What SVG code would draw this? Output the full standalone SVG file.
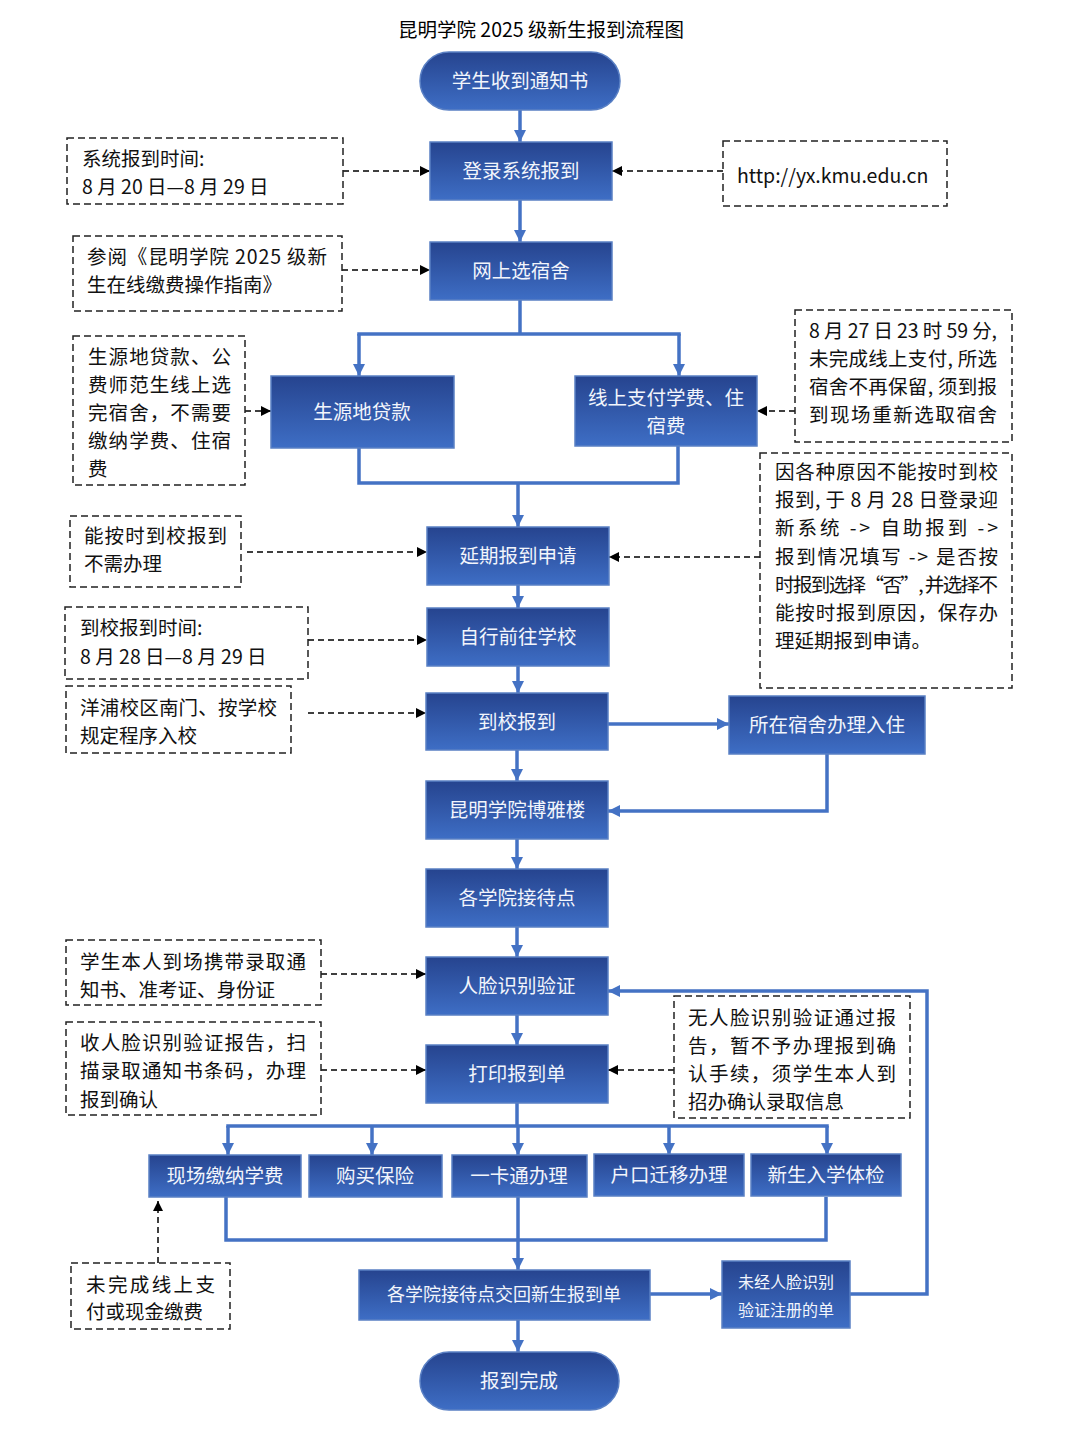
<svg xmlns="http://www.w3.org/2000/svg" width="1080" height="1440" viewBox="0 0 1080 1440">
<defs>
<linearGradient id="g" x1="0" y1="0" x2="0" y2="1">
<stop offset="0" stop-color="#26448f"/>
<stop offset="1" stop-color="#3e6ec5"/>
</linearGradient>
<marker id="ab" viewBox="0 0 10 10" refX="10" refY="5" markerWidth="12" markerHeight="12" markerUnits="userSpaceOnUse" orient="auto">
<path d="M0,0 L10,5 L0,10 z" fill="#4472c4"/>
</marker>
<marker id="ak" viewBox="0 0 10 10" refX="10" refY="5" markerWidth="10" markerHeight="10" markerUnits="userSpaceOnUse" orient="auto">
<path d="M0,0 L10,5 L0,10 z" fill="#000"/>
</marker>
</defs>
<style>
.n{fill:url(#g);stroke:#5a80c4;stroke-width:1.5}
.nt{font-family:"Noto Sans CJK SC","Liberation Sans",sans-serif;font-size:19.5px;fill:#f2f5fc;text-anchor:middle}
.ns{font-size:16px}
.nm{font-size:18px}
.d{fill:#fff;stroke:#222;stroke-width:1.5;stroke-dasharray:7 4}
.dt{font-family:"Noto Sans CJK SC","Liberation Sans",sans-serif;font-size:19.5px;fill:#111}
.b{fill:none;stroke:#4472c4;stroke-width:3.5;marker-end:url(#ab)}
.bl{fill:none;stroke:#4472c4;stroke-width:3.5}
.k{fill:none;stroke:#000;stroke-width:1.5;stroke-dasharray:6 4;marker-end:url(#ak)}
.title{font-family:"Noto Sans CJK SC","Liberation Sans",sans-serif;font-size:19.5px;fill:#000;text-anchor:middle}
</style>
<rect width="1080" height="1440" fill="#fff"/>
<text class="title" x="541" y="37">昆明学院 2025 级新生报到流程图</text>

<g id="connectors">
<line class="b" x1="520" y1="110" x2="520" y2="142"/>
<line class="b" x1="520" y1="200" x2="520" y2="242"/>
<polyline class="bl" points="520,300 520,334"/>
<polyline class="b" points="359,334 359,376"/>
<polyline class="b" points="679,334 679,376"/>
<line class="bl" x1="357.25" y1="334" x2="680.75" y2="334"/>
<polyline class="bl" points="359,448 359,483 678,483 678,446"/>
<line class="b" x1="518" y1="483" x2="518" y2="527"/>
<line class="b" x1="518" y1="585" x2="518" y2="608"/>
<line class="b" x1="518" y1="666" x2="518" y2="693"/>
<line class="b" x1="608" y1="724" x2="729" y2="724"/>
<line class="b" x1="517" y1="750" x2="517" y2="781"/>
<polyline class="b" points="827,754 827,811 608,811"/>
<line class="b" x1="517" y1="839" x2="517" y2="869"/>
<line class="b" x1="517" y1="927" x2="517" y2="957"/>
<line class="b" x1="517" y1="1015" x2="517" y2="1045"/>
<line class="bl" x1="517" y1="1103" x2="517" y2="1126"/>
<line class="bl" x1="226.25" y1="1126" x2="828.75" y2="1126"/>
<line class="b" x1="228" y1="1126" x2="228" y2="1155"/>
<line class="b" x1="372" y1="1126" x2="372" y2="1155"/>
<line class="b" x1="518" y1="1126" x2="518" y2="1155"/>
<line class="b" x1="669" y1="1126" x2="669" y2="1155"/>
<line class="b" x1="827" y1="1126" x2="827" y2="1155"/>
<polyline class="bl" points="226,1197 226,1240 826,1240 826,1197"/>
<line class="b" x1="518" y1="1197" x2="518" y2="1270"/>
<line class="b" x1="518" y1="1320" x2="518" y2="1352"/>
<line class="b" x1="650" y1="1294" x2="722" y2="1294"/>
<polyline class="b" points="850,1294 927,1294 927,991 608,991"/>

<line class="k" x1="343" y1="171" x2="430" y2="171"/>
<line class="k" x1="723" y1="171" x2="612" y2="171"/>
<line class="k" x1="342" y1="270" x2="430" y2="270"/>
<line class="k" x1="245" y1="411" x2="271" y2="411"/>
<line class="k" x1="795" y1="411" x2="757" y2="411"/>
<line class="k" x1="247" y1="552" x2="427" y2="552"/>
<line class="k" x1="760" y1="557" x2="609" y2="557"/>
<line class="k" x1="308" y1="640" x2="427" y2="640"/>
<line class="k" x1="308" y1="713" x2="426" y2="713"/>
<line class="k" x1="321" y1="974" x2="426" y2="974"/>
<line class="k" x1="321" y1="1070" x2="426" y2="1070"/>
<line class="k" x1="674" y1="1070" x2="608" y2="1070"/>
<line class="k" x1="158" y1="1263" x2="158" y2="1201"/>
</g>

<g id="start"><rect class="n" x="420" y="52" width="200" height="58" rx="29"/><text class="nt" x="520" y="88">学生收到通知书</text></g>
<g id="login"><rect class="n" x="430" y="142" width="182" height="58"/><text class="nt" x="521" y="178">登录系统报到</text></g>
<g id="dorm"><rect class="n" x="430" y="242" width="182" height="58"/><text class="nt" x="521" y="278">网上选宿舍</text></g>
<g id="loan"><rect class="n" x="271" y="376" width="183" height="72"/><text class="nt" x="362" y="419">生源地贷款</text></g>
<g id="pay"><rect class="n" x="575" y="376" width="182" height="70"/><text class="nt" x="666" y="405">线上支付学费、住</text><text class="nt" x="666" y="433">宿费</text></g>
<g id="delay"><rect class="n" x="427" y="527" width="182" height="58"/><text class="nt" x="518" y="563">延期报到申请</text></g>
<g id="go"><rect class="n" x="427" y="608" width="182" height="58"/><text class="nt" x="518" y="644">自行前往学校</text></g>
<g id="arrive"><rect class="n" x="426" y="693" width="182" height="57"/><text class="nt" x="517" y="729">到校报到</text></g>
<g id="checkin"><rect class="n" x="729" y="696" width="196" height="58"/><text class="nt" x="827" y="732">所在宿舍办理入住</text></g>
<g id="boya"><rect class="n" x="426" y="781" width="182" height="58"/><text class="nt" x="517" y="817">昆明学院博雅楼</text></g>
<g id="reception"><rect class="n" x="426" y="869" width="182" height="58"/><text class="nt" x="517" y="905">各学院接待点</text></g>
<g id="face"><rect class="n" x="426" y="957" width="182" height="58"/><text class="nt" x="517" y="993">人脸识别验证</text></g>
<g id="print"><rect class="n" x="426" y="1045" width="182" height="58"/><text class="nt" x="517" y="1081">打印报到单</text></g>
<g id="fee"><rect class="n" x="149" y="1155" width="152" height="42"/><text class="nt" x="225" y="1183">现场缴纳学费</text></g>
<g id="insurance"><rect class="n" x="309" y="1155" width="133" height="42"/><text class="nt" x="375" y="1183">购买保险</text></g>
<g id="card"><rect class="n" x="452" y="1155" width="135" height="42"/><text class="nt" x="519" y="1183">一卡通办理</text></g>
<g id="hukou"><rect class="n" x="594" y="1154" width="150" height="42"/><text class="nt" x="669" y="1182">户口迁移办理</text></g>
<g id="exam"><rect class="n" x="751" y="1154" width="150" height="42"/><text class="nt" x="826" y="1182">新生入学体检</text></g>
<g id="return"><rect class="n" x="359" y="1270" width="291" height="50"/><text class="nt nm" x="504" y="1301">各学院接待点交回新生报到单</text></g>
<g id="unverified"><rect class="n" x="722" y="1261" width="128" height="67"/><text class="nt ns" x="786" y="1288">未经人脸识别</text><text class="nt ns" x="786" y="1316">验证注册的单</text></g>
<g id="end"><rect class="n" x="420" y="1352" width="199" height="58" rx="29"/><text class="nt" x="519" y="1388">报到完成</text></g>

<g id="note-time"><rect class="d" x="67" y="138" width="276" height="66"/><text class="dt" x="82" y="166">系统报到时间:</text><text class="dt" x="82" y="194">8 月 20 日—8 月 29 日</text></g>
<g id="note-url"><rect class="d" x="723" y="141" width="224" height="65"/><text class="dt" x="737" y="183">http://yx.kmu.edu.cn</text></g>
<g id="note-guide"><rect class="d" x="73" y="236" width="269" height="75"/><text class="dt" x="87" y="264" textLength="240" lengthAdjust="spacing">参阅《昆明学院 2025 级新</text><text class="dt" x="87" y="292">生在线缴费操作指南》</text></g>
<g id="note-loan"><rect class="d" x="73" y="336" width="172" height="149"/>
<text class="dt" x="88" y="364" textLength="143" lengthAdjust="spacing">生源地贷款、公</text>
<text class="dt" x="88" y="392" textLength="143" lengthAdjust="spacing">费师范生线上选</text>
<text class="dt" x="88" y="420" textLength="143" lengthAdjust="spacing">完宿舍，不需要</text>
<text class="dt" x="88" y="448" textLength="143" lengthAdjust="spacing">缴纳学费、住宿</text>
<text class="dt" x="88" y="476">费</text></g>
<g id="note-deadline"><rect class="d" x="795" y="310" width="217" height="132"/>
<text class="dt" x="809" y="338" textLength="188" lengthAdjust="spacing">8 月 27 日 23 时 59 分,</text>
<text class="dt" x="809" y="366" textLength="188" lengthAdjust="spacing">未完成线上支付, 所选</text>
<text class="dt" x="809" y="394" textLength="188" lengthAdjust="spacing">宿舍不再保留, 须到报</text>
<text class="dt" x="809" y="422" textLength="188" lengthAdjust="spacing">到现场重新选取宿舍</text></g>
<g id="note-delay"><rect class="d" x="760" y="453" width="252" height="235"/>
<text class="dt" x="775" y="479" textLength="223" lengthAdjust="spacing">因各种原因不能按时到校</text>
<text class="dt" x="775" y="507" textLength="223" lengthAdjust="spacing">报到, 于 8 月 28 日登录迎</text>
<text class="dt" x="775" y="535" textLength="223" lengthAdjust="spacing">新系统 -&gt; 自助报到 -&gt;</text>
<text class="dt" x="775" y="564" textLength="223" lengthAdjust="spacing">报到情况填写 -&gt; 是否按</text>
<text class="dt" x="775" y="592" textLength="223" lengthAdjust="spacing">时报到选择“否”, 并选择不</text>
<text class="dt" x="775" y="620" textLength="223" lengthAdjust="spacing">能按时报到原因，保存办</text>
<text class="dt" x="775" y="648">理延期报到申请。</text></g>
<g id="note-ontime"><rect class="d" x="70" y="516" width="171" height="71"/><text class="dt" x="84" y="543" textLength="143" lengthAdjust="spacing">能按时到校报到</text><text class="dt" x="84" y="571">不需办理</text></g>
<g id="note-arrive"><rect class="d" x="65" y="607" width="243" height="72"/><text class="dt" x="80" y="635">到校报到时间:</text><text class="dt" x="80" y="664">8 月 28 日—8 月 29 日</text></g>
<g id="note-gate"><rect class="d" x="66" y="686" width="225" height="67"/><text class="dt" x="80" y="715" textLength="197" lengthAdjust="spacing">洋浦校区南门、按学校</text><text class="dt" x="80" y="743">规定程序入校</text></g>
<g id="note-docs"><rect class="d" x="66" y="940" width="255" height="65"/><text class="dt" x="80" y="969" textLength="226" lengthAdjust="spacing">学生本人到场携带录取通</text><text class="dt" x="80" y="997">知书、准考证、身份证</text></g>
<g id="note-confirm"><rect class="d" x="66" y="1022" width="255" height="93"/>
<text class="dt" x="80" y="1050" textLength="226" lengthAdjust="spacing">收人脸识别验证报告，扫</text>
<text class="dt" x="80" y="1078" textLength="226" lengthAdjust="spacing">描录取通知书条码，办理</text>
<text class="dt" x="80" y="1107">报到确认</text></g>
<g id="note-noface"><rect class="d" x="674" y="996" width="236" height="122"/>
<text class="dt" x="688" y="1025" textLength="208" lengthAdjust="spacing">无人脸识别验证通过报</text>
<text class="dt" x="688" y="1053" textLength="208" lengthAdjust="spacing">告，暂不予办理报到确</text>
<text class="dt" x="688" y="1081" textLength="208" lengthAdjust="spacing">认手续，须学生本人到</text>
<text class="dt" x="688" y="1109">招办确认录取信息</text></g>
<g id="note-unpaid"><rect class="d" x="71" y="1263" width="159" height="66"/><text class="dt" x="86" y="1292" textLength="129" lengthAdjust="spacing">未完成线上支</text><text class="dt" x="86" y="1319">付或现金缴费</text></g>
</svg>
